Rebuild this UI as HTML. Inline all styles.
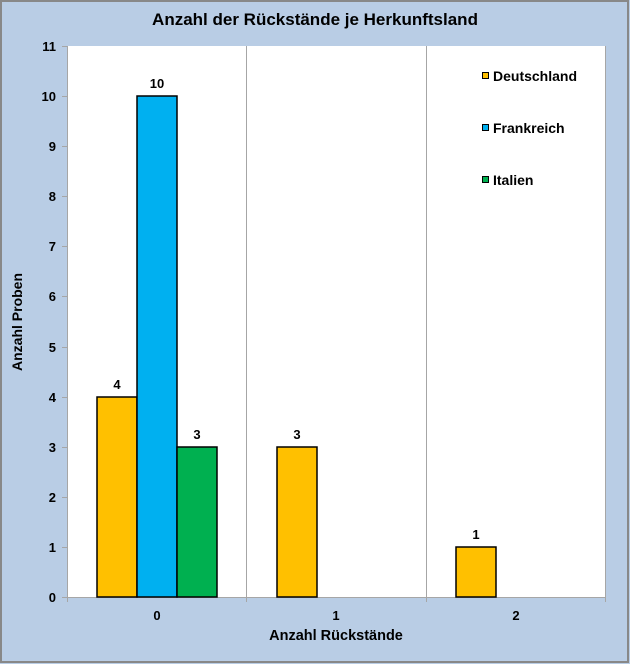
<!DOCTYPE html><html><head><style>body{margin:0}svg{display:block}text{font-family:"Liberation Sans",Arial,sans-serif;font-weight:bold;fill:#000}</style></head><body>
<svg width="630" height="664" xmlns="http://www.w3.org/2000/svg">
<rect x="0" y="0" width="630" height="664" fill="#b9cde5"/>
<rect x="1" y="1" width="627" height="661" fill="none" stroke="#888" stroke-width="2"/>
<text x="315" y="25" font-size="17" text-anchor="middle">Anzahl der Rückstände je Herkunftsland</text>
<rect x="67" y="46" width="538" height="551" fill="#fff"/>
<g stroke="#a6a6a6" stroke-width="1">
<line x1="67.5" y1="46" x2="67.5" y2="597"/>
<line x1="246.5" y1="46" x2="246.5" y2="602"/>
<line x1="426.5" y1="46" x2="426.5" y2="602"/>
<line x1="605.5" y1="46" x2="605.5" y2="602"/>
<line x1="67" y1="597.5" x2="605" y2="597.5"/>
<line x1="67.5" y1="597" x2="67.5" y2="602"/>
</g>
<g stroke="#a6a6a6">
<line x1="62" y1="46.5" x2="67" y2="46.5"/><line x1="62" y1="96.5" x2="67" y2="96.5"/><line x1="62" y1="146.5" x2="67" y2="146.5"/><line x1="62" y1="196.5" x2="67" y2="196.5"/><line x1="62" y1="246.5" x2="67" y2="246.5"/><line x1="62" y1="296.5" x2="67" y2="296.5"/><line x1="62" y1="347.5" x2="67" y2="347.5"/><line x1="62" y1="397.5" x2="67" y2="397.5"/><line x1="62" y1="447.5" x2="67" y2="447.5"/><line x1="62" y1="497.5" x2="67" y2="497.5"/><line x1="62" y1="547.5" x2="67" y2="547.5"/><line x1="62" y1="597.5" x2="67" y2="597.5"/>
</g>
<g font-size="13" text-anchor="end">
<text x="56" y="51">11</text><text x="56" y="101">10</text><text x="56" y="151">9</text><text x="56" y="201">8</text><text x="56" y="251">7</text><text x="56" y="301">6</text><text x="56" y="352">5</text><text x="56" y="402">4</text><text x="56" y="452">3</text><text x="56" y="502">2</text><text x="56" y="552">1</text><text x="56" y="602">0</text>
</g>
<g stroke="#000" stroke-width="1.5">
<rect x="97" y="397" width="40" height="200" fill="#ffc000"/>
<rect x="137" y="96" width="40" height="501" fill="#00b0f0"/>
<rect x="177" y="447" width="40" height="150" fill="#00b050"/>
<rect x="277" y="447" width="40" height="150" fill="#ffc000"/>
<rect x="456" y="547" width="40" height="50" fill="#ffc000"/>
</g>
<g font-size="13" text-anchor="middle">
<text x="117" y="389">4</text><text x="157" y="88">10</text><text x="197" y="439">3</text><text x="297" y="439">3</text><text x="476" y="539">1</text>
<text x="157" y="620">0</text><text x="336" y="620">1</text><text x="516" y="620">2</text>
<text x="336" y="640" font-size="14.5">Anzahl Rückstände</text>
</g>
<text transform="translate(22 322) rotate(-90)" font-size="14" text-anchor="middle">Anzahl Proben</text>
<g stroke="#000" stroke-width="1">
<rect x="482.5" y="72.5" width="6" height="6" fill="#ffc000"/>
<rect x="482.5" y="124.5" width="6" height="6" fill="#00b0f0"/>
<rect x="482.5" y="176.5" width="6" height="6" fill="#00b050"/>
</g>
<g font-size="14">
<text x="493" y="81">Deutschland</text><text x="493" y="133">Frankreich</text><text x="493" y="185">Italien</text>
</g>
</svg></body></html>
